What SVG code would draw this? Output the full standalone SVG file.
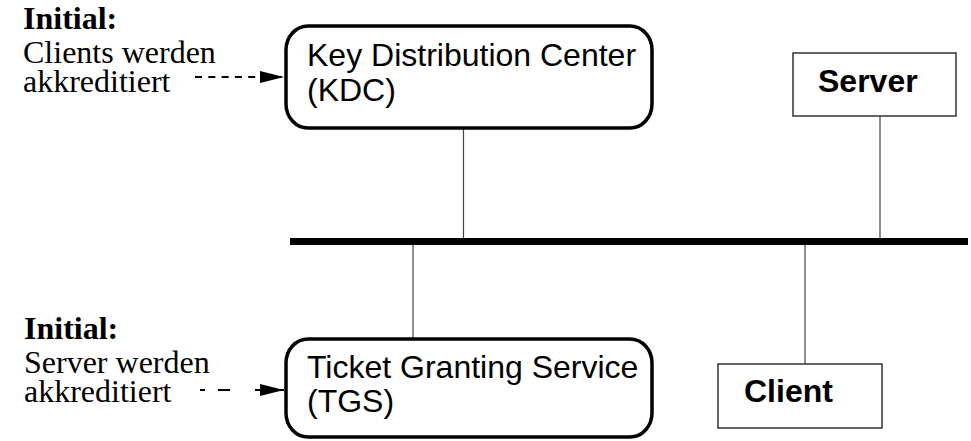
<svg xmlns="http://www.w3.org/2000/svg" width="971" height="441" viewBox="0 0 971 441">
<style>
.rbox{fill:#fff;stroke:#000;stroke-width:3.5}
.box{fill:#fff;stroke:#333;stroke-width:1.5}
.sans{font-family:"Liberation Sans",Arial,sans-serif;font-size:32px;fill:#000}
.bold{font-weight:bold}
.serif{font-family:"Liberation Serif","Times New Roman",serif;font-size:32px;fill:#000}
.link{stroke:#444;stroke-width:1.2;fill:none}
.bus{stroke:#000;stroke-width:7;fill:none}
.dash{stroke:#000;stroke-width:2;fill:none}
</style>
<defs>
<marker id="ah" markerWidth="24" markerHeight="12" refX="24" refY="6" orient="auto" markerUnits="userSpaceOnUse">
<path d="M0,0 L24,6 L0,12 Z" fill="#000"/>
</marker>
</defs>
<g id="connectors">
<line class="bus" x1="290" y1="241.5" x2="968" y2="241.5"/>
<line class="link" x1="463.5" y1="128" x2="463.5" y2="238"/>
<line class="link" x1="880" y1="116" x2="880" y2="238"/>
<line class="link" x1="413" y1="245" x2="413" y2="339"/>
<line class="link" x1="805" y1="245" x2="805" y2="364"/>
<path class="dash" d="M195,77 H284" stroke-dasharray="7,6.3" marker-end="url(#ah)"/>
<path class="dash" d="M200,390 H284" stroke-dasharray="5,13,12,25,60" marker-end="url(#ah)"/>
</g>
<g id="note-top">
<text class="serif bold" x="23" y="29">Initial:</text>
<text class="serif" x="23" y="63">Clients werden</text>
<text class="serif" x="23" y="92">akkreditiert</text>
</g>
<g id="kdc">
<rect class="rbox" x="286" y="26" width="366" height="102" rx="22" ry="24"/>
<text class="sans" x="307" y="66">Key Distribution Center</text>
<text class="sans" x="307" y="101">(KDC)</text>
</g>
<g id="server">
<rect class="box" x="793" y="53" width="163" height="63"/>
<text class="sans bold" x="818" y="92">Server</text>
</g>
<g id="note-bottom">
<text class="serif bold" x="24" y="339">Initial:</text>
<text class="serif" x="24" y="373">Server werden</text>
<text class="serif" x="24" y="402">akkreditiert</text>
</g>
<g id="tgs">
<rect class="rbox" x="286" y="339" width="366" height="98" rx="22" ry="24"/>
<text class="sans" x="307" y="378">Ticket Granting Service</text>
<text class="sans" x="307" y="412">(TGS)</text>
</g>
<g id="client">
<rect class="box" x="718" y="364" width="164" height="64"/>
<text class="sans bold" x="744" y="402">Client</text>
</g>
</svg>
